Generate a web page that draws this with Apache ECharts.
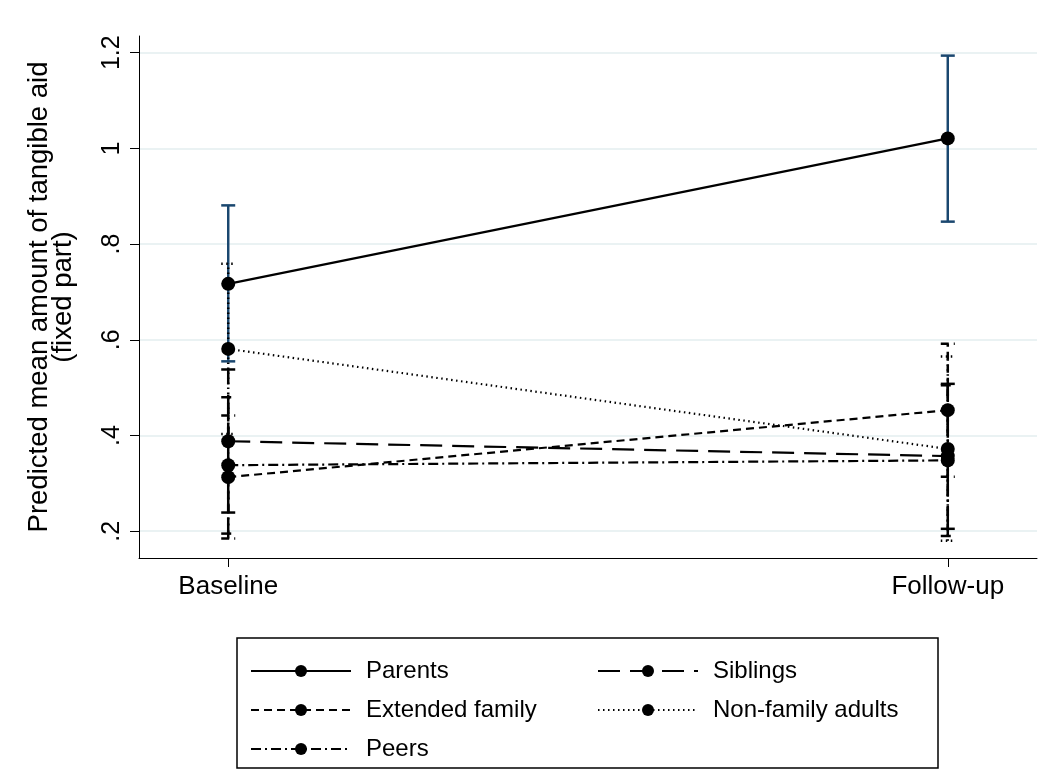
<!DOCTYPE html>
<html>
<head>
<meta charset="utf-8">
<script src="https://cdn.jsdelivr.net/npm/echarts@6/dist/echarts.min.js"></script>
<style>
  html, body { margin: 0; padding: 0; background: #ffffff; }
  #chart { width: 1050px; height: 770px; }
</style>
</head>
<body>
<div id="chart"></div>
<script>
// Time points on the x axis and tick values on the y axis
const categories = ['Baseline', 'Follow-up'];
const yTicks = [0.2, 0.4, 0.6, 0.8, 1.0, 1.2];

// Predicted means with 95% confidence limits, one array per support source
const parents = [0.717, 1.021];
const parentsLow = [0.555, 0.847];
const parentsHigh = [0.881, 1.194];

const siblings = [0.388, 0.357];
const siblingsLow = [0.239, 0.205];
const siblingsHigh = [0.538, 0.508];

const extended = [0.313, 0.453];
const extendedLow = [0.185, 0.314];
const extendedHigh = [0.442, 0.592];

const nonFamily = [0.581, 0.372];
const nonFamilyLow = [0.403, 0.180];
const nonFamilyHigh = [0.759, 0.565];

const peers = [0.338, 0.348];
const peersLow = [0.195, 0.190];
const peersHigh = [0.480, 0.505];

const FONT = '"Liberation Sans", Arial, Helvetica, sans-serif';
const NAVY = '#1a476f';

// Dash patterns for each group
const dashes = {
  'Parents': 'solid',
  'Siblings': [22, 10],
  'Extended family': [8, 5],
  'Non-family adults': [1.5, 3.5],
  'Peers': [10, 4, 2, 4]
};

// Capped range bar (rcap) drawn through the axis scales
function ciSeries(name, low, high, color) {
  const dash = dashes[name];
  return {
    type: 'custom',
    name: name + ' CI',
    silent: true,
    z: 2,
    data: low.map((l, i) => [i, l, high[i]]),
    encode: { x: 0, y: [1, 2] },
    renderItem: (params, api) => {
      const x = api.value(0);
      const a = api.coord([x, api.value(1)]);
      const b = api.coord([x, api.value(2)]);
      const hw = 7;
      const style = {
        stroke: color,
        lineWidth: 2.5,
        lineDash: dash === 'solid' ? null : dash,
        fill: null
      };
      return {
        type: 'group',
        children: [
          { type: 'line', shape: { x1: a[0], y1: a[1], x2: b[0], y2: b[1] }, style: style },
          { type: 'line', shape: { x1: a[0] - hw, y1: a[1], x2: a[0] + hw, y2: a[1] }, style: style },
          { type: 'line', shape: { x1: b[0] - hw, y1: b[1], x2: b[0] + hw, y2: b[1] }, style: style }
        ]
      };
    }
  };
}

// Connected line with filled circle markers
function lineSeries(name, values) {
  return {
    type: 'line',
    name: name,
    z: 5,
    data: values.map((v, i) => [i, v]),
    symbol: 'circle',
    symbolSize: 14,
    showSymbol: true,
    itemStyle: { color: '#000000' },
    lineStyle: { color: '#000000', width: 2.2, type: dashes[name] },
    emphasis: { disabled: true }
  };
}

const legendCommon = {
  orient: 'vertical',
  itemWidth: 100,
  itemHeight: 15,
  itemGap: 15,
  selectedMode: false,
  textStyle: {
    fontFamily: FONT,
    fontSize: 24,
    color: '#000000',
    lineHeight: 24,
    padding: [0, 0, 0, 10]
  }
};

const option = {
  backgroundColor: '#ffffff',
  animation: false,
  grid: { left: 139, right: 13, top: 36, bottom: 212 },
  xAxis: {
    type: 'value',
    min: -0.124,
    max: 1.124,
    axisLine: { show: true, onZero: false, lineStyle: { color: '#000000', width: 1 } },
    axisTick: { show: true, customValues: [0, 1], length: 9, lineStyle: { color: '#000000' } },
    axisLabel: {
      customValues: [0, 1],
      formatter: v => categories[Math.round(v)],
      fontFamily: FONT,
      fontSize: 26,
      color: '#000000',
      margin: 16
    },
    splitLine: { show: false }
  },
  yAxis: {
    type: 'value',
    min: 0.144,
    max: 1.235,
    name: 'Predicted mean amount of tangible aid\n(fixed part)',
    nameLocation: 'middle',
    nameGap: 64,
    nameRotate: 90,
    nameTextStyle: { fontFamily: FONT, fontSize: 27.5, color: '#000000', lineHeight: 24 },
    axisLine: { show: true, onZero: false, lineStyle: { color: '#000000', width: 1 } },
    axisTick: { show: true, customValues: yTicks, length: 9, lineStyle: { color: '#000000' } },
    axisLabel: {
      customValues: yTicks,
      rotate: 90,
      margin: 14,
      fontFamily: FONT,
      fontSize: 25,
      color: '#000000',
      formatter: v => String(Math.round(v * 10) / 10).replace(/^0\./, '.')
    },
    splitLine: { show: true, customValues: yTicks, lineStyle: { color: '#eaf2f3', width: 2 } }
  },
  legend: [
    Object.assign({}, legendCommon, { data: ['Parents', 'Extended family', 'Peers'], left: 245, top: 654 }),
    Object.assign({}, legendCommon, { data: ['Siblings', 'Non-family adults'], left: 592, top: 654 })
  ],
  graphic: [
    {
      type: 'rect',
      shape: { x: 237, y: 638, width: 701, height: 130 },
      style: { fill: null, stroke: '#000000', lineWidth: 1.5 },
      silent: true
    }
  ],
  series: [
    ciSeries('Parents', parentsLow, parentsHigh, NAVY),
    ciSeries('Siblings', siblingsLow, siblingsHigh, '#000000'),
    ciSeries('Extended family', extendedLow, extendedHigh, '#000000'),
    ciSeries('Non-family adults', nonFamilyLow, nonFamilyHigh, '#000000'),
    ciSeries('Peers', peersLow, peersHigh, '#000000'),
    lineSeries('Parents', parents),
    lineSeries('Siblings', siblings),
    lineSeries('Extended family', extended),
    lineSeries('Non-family adults', nonFamily),
    lineSeries('Peers', peers)
  ]
};

const chart = echarts.init(document.getElementById('chart'), null, { renderer: 'canvas' });
chart.setOption(option);
</script>
</body>
</html>
